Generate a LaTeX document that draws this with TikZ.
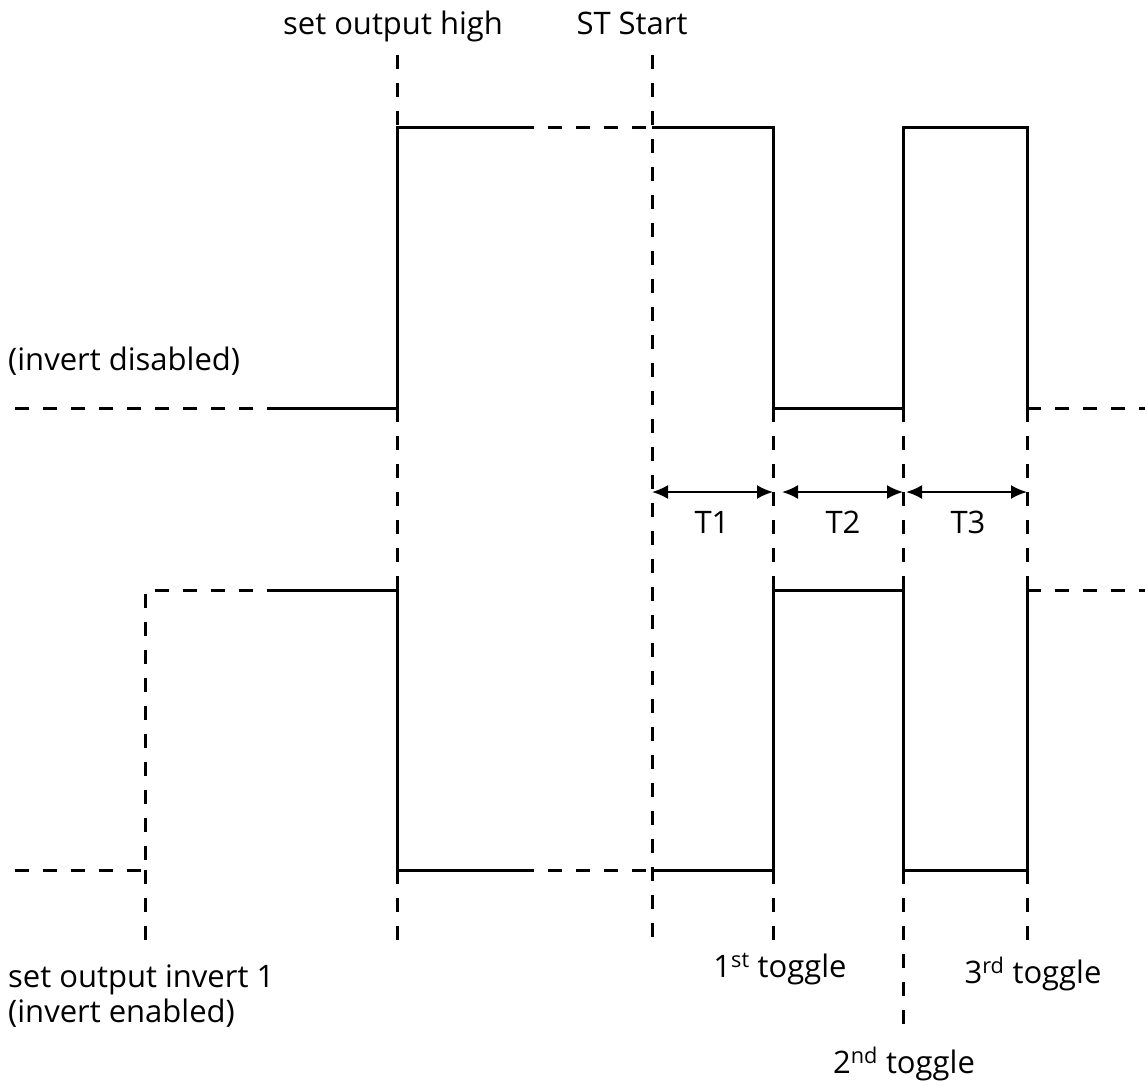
\documentclass[tikz,border=0pt]{standalone}
\usepackage{fontspec}
\setmainfont{Open Sans}
\usetikzlibrary{arrows.meta}
\begin{document}
\begin{tikzpicture}[x=1pt,y=-1pt,
  wave/.style={line width=3pt, line join=miter},
  guide/.style={line width=3pt, dash pattern=on 14pt off 14pt},
  lbl/.style={font=\fontsize{31}{37}\selectfont, inner sep=0pt},
  dimarrow/.style={line width=2.2pt, {Latex[length=16pt,width=14pt]}-{Latex[length=16pt,width=14pt]}}]
\useasboundingbox (0,0) rectangle (1145,1086);
% top waveform (invert disabled)
\coordinate (tL0) at (15,408);
\coordinate (tL1) at (270,408);
\coordinate (tR1) at (397,408);
\coordinate (tR1h) at (397,128);
\coordinate (tH1) at (520,128);
\coordinate (tS) at (652,128);
\coordinate (tF1h) at (773,128);
\coordinate (tF1) at (773,408);
\coordinate (tR2) at (903,408);
\coordinate (tR2h) at (903,128);
\coordinate (tF2h) at (1027,128);
\coordinate (tF2) at (1027,408);
\coordinate (tE) at (1145,408);
% bottom waveform (invert enabled)
\coordinate (bL0) at (15,870);
\coordinate (bR0) at (145,870);
\coordinate (bR0h) at (145,590);
\coordinate (bH0) at (270,590);
\coordinate (bF1h) at (397,590);
\coordinate (bF1) at (397,870);
\coordinate (bL1) at (520,870);
\coordinate (bS) at (652,870);
\coordinate (bR1) at (773,870);
\coordinate (bR1h) at (773,590);
\coordinate (bF2h) at (903,590);
\coordinate (bF2) at (903,870);
\coordinate (bR2) at (1027,870);
\coordinate (bR2h) at (1027,590);
\coordinate (bE) at (1145,590);
% guide ends
\coordinate (g0) at (145,940);
\coordinate (g1t) at (397,55);
\coordinate (g1b) at (397,950);
\coordinate (gSt) at (652,55);
\coordinate (gSb) at (652,948);
\coordinate (g2b) at (773,948);
\coordinate (g3b) at (903,1032);
\coordinate (g4b) at (1027,948);
% arrow ends
\coordinate (a0) at (652,492);
\coordinate (a1) at (773,492);
\coordinate (a2) at (782,492);
\coordinate (a3) at (903,492);
\coordinate (a4) at (906,492);
\coordinate (a5) at (1027,492);

% top waveform
\draw[guide] (tL0) -- (tL1);
\draw[wave] (tL1) -- (tR1) -- (tR1h) -- (tH1);
\draw[guide] (tH1) -- (tS);
\draw[wave] (tS) -- (tF1h) -- (tF1) -- (tR2) -- (tR2h) -- (tF2h) -- (tF2);
\draw[guide] (tF2) -- (tE);

% bottom waveform
\draw[guide] (bL0) -- (bR0) -- (bR0h) -- (bH0);
\draw[wave] (bH0) -- (bF1h) -- (bF1) -- (bL1);
\draw[guide] (bL1) -- (bS);
\draw[wave] (bS) -- (bR1) -- (bR1h) -- (bF2h) -- (bF2) -- (bR2) -- (bR2h);
\draw[guide] (bR2h) -- (bE);

% vertical guides
\draw[guide] (bR0) -- (g0);
\draw[guide] (g1t) -- (tR1h);
\draw[guide] (tR1) -- (bF1h);
\draw[guide] (bF1) -- (g1b);
\draw[guide] (gSt) -- (gSb);
\draw[guide] (tF1) -- (bR1h);
\draw[guide] (bR1) -- (g2b);
\draw[guide] (tR2) -- (bF2h);
\draw[guide] (bF2) -- (g3b);
\draw[guide] (tF2) -- (bR2h);
\draw[guide] (bR2) -- (g4b);

% interval arrows
\draw[dimarrow] (a0) -- (a1);
\draw[dimarrow] (a2) -- (a3);
\draw[dimarrow] (a4) -- (a5);
\node[lbl, anchor=base] (t1) at (712,533) {T1};
\node[lbl, anchor=base] (t2) at (843,533) {T2};
\node[lbl, anchor=base] (t3) at (968,533) {T3};

% labels
\node[lbl, anchor=base] (soh) at (393,35) {set output high};
\node[lbl, anchor=base] (sts) at (632,35) {ST Start};
\node[lbl, anchor=base west] (idis) at (8,370) {(invert disabled)};
\node[lbl, anchor=base west] (soi) at (8,987) {set output invert 1};
\node[lbl, anchor=base west] (ien) at (8,1022) {(invert enabled)};
\node[lbl, anchor=base] (tg1) at (780,977) {1\textsuperscript{st} toggle};
\node[lbl, anchor=base] (tg2) at (904,1073) {2\textsuperscript{nd} toggle};
\node[lbl, anchor=base] (tg3) at (1033,983) {3\textsuperscript{rd} toggle};
\end{tikzpicture}
\end{document}
